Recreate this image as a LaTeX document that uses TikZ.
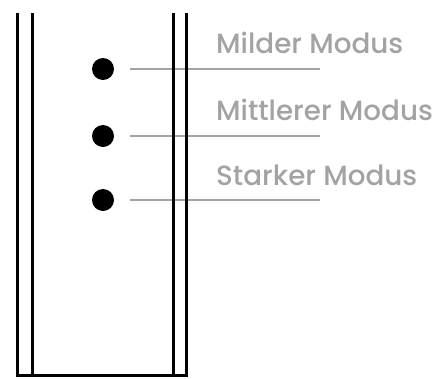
\documentclass[tikz,border=0pt]{standalone}
\usepackage{fontspec}
\setmainfont{Poppins}
\newfontfamily\modefont{Poppins}[UprightFont=* Medium]
\definecolor{modegray}{HTML}{A3A3A3}
\tikzset{
    wall/.style={line width=3pt, black},
    dot/.style={circle, fill=black, inner sep=0pt, minimum size=22pt},
    lead/.style={line width=2pt, modegray},
    mode/.style={anchor=base west, inner sep=0pt, text=modegray, font=\modefont\fontsize{27.8}{32}\selectfont}
}
\begin{document}
\begin{tikzpicture}[x=1pt,y=-1pt]
    \useasboundingbox (0,0) rectangle (438,378);

    \node[dot] (mild) at (103,69) {};
    \node[dot] (mid) at (103,136) {};
    \node[dot] (strong) at (103,200) {};

    \coordinate (mildA) at (130,69);
    \coordinate (mildB) at (320,69);
    \coordinate (midA) at (130,136);
    \coordinate (midB) at (320,136);
    \coordinate (strongA) at (130,200);
    \coordinate (strongB) at (320,200);
    \draw[lead] (mildA) -- (mildB);
    \draw[lead] (midA) -- (midB);
    \draw[lead] (strongA) -- (strongB);

    \node[mode] (mildtext) at (216,53) {Milder Modus};
    \node[mode] (midtext) at (216,120) {Mittlerer Modus};
    \node[mode] (strongtext) at (216,185) {Starker Modus};

    \draw[wall] (17,13) -- (17,375) -- (186,375) -- (186,13);
    \draw[wall] (32,13) -- (32,375);
    \draw[wall] (173,13) -- (173,375);
\end{tikzpicture}
\end{document}
